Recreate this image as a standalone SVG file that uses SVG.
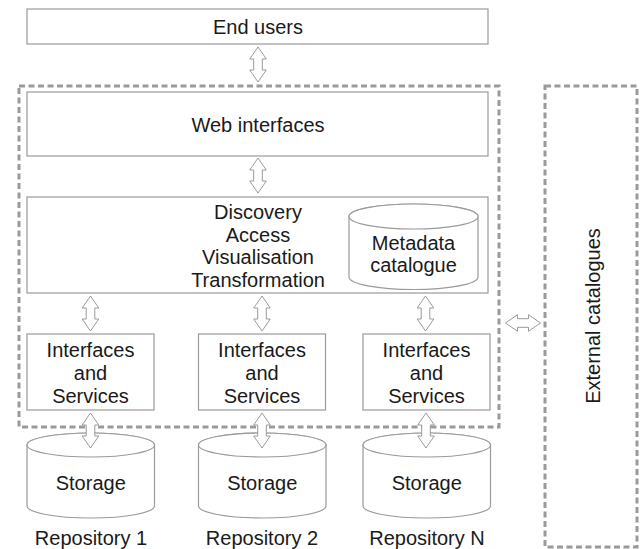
<svg xmlns="http://www.w3.org/2000/svg" xmlns:xlink="http://www.w3.org/1999/xlink" width="641" height="549" viewBox="0 0 641 549">
<style>
.box{fill:#fff;stroke:#9a9a9a;stroke-width:1.2}
.dash{fill:none;stroke:#9a9a9a;stroke-width:3;stroke-dasharray:6 3.5}
.arr{fill:#fff;stroke:#9a9a9a;stroke-width:1}
text{font-family:"Liberation Sans",Arial,sans-serif;font-size:20px;fill:#1a1a1a;text-anchor:middle}
</style>
<defs>
<path id="dbl" d="M0,-17.5 L8.3,-5.5 L4.3,-5.5 L4.3,5.5 L8.3,5.5 L0,17.5 L-8.3,5.5 L-4.3,5.5 L-4.3,-5.5 L-8.3,-5.5 Z"/>
</defs>
<rect width="641" height="549" fill="#fff"/>
<g id="platform">
<rect class="dash" x="19" y="86" width="480" height="341"/>
</g>
<g id="external-catalogues">
<rect class="dash" x="545" y="86" width="92" height="461"/>
<text transform="translate(593,316) rotate(-90)" x="0" y="7">External catalogues</text>
</g>
<g id="end-users">
<rect class="box" x="27" y="9" width="461" height="35"/>
<text x="258" y="34">End users</text>
</g>
<g id="web-interfaces">
<rect class="box" x="27" y="92" width="461" height="64"/>
<text x="258" y="132">Web interfaces</text>
</g>
<g id="discovery">
<rect class="box" x="27" y="197" width="461" height="96"/>
<text x="258" y="219">Discovery</text>
<text x="258" y="241.5">Access</text>
<text x="258" y="264">Visualisation</text>
<text x="258" y="286.5">Transformation</text>
</g>
<g id="metadata-catalogue">
<path class="box" d="M349,216.5 V277 A64.5,12.5 0 0 0 478,277 V216.5 A64.5,12.5 0 0 0 349,216.5 Z"/>
<ellipse class="box" cx="413.5" cy="216.5" rx="64.5" ry="12.5"/>
<text x="413.5" y="250">Metadata</text>
<text x="413.5" y="272">catalogue</text>
</g>
<g id="interfaces-1">
<rect class="box" x="27" y="334" width="127" height="76"/>
<text x="90.5" y="357">Interfaces</text>
<text x="90.5" y="380">and</text>
<text x="90.5" y="403">Services</text>
</g>
<g id="interfaces-2">
<rect class="box" x="198.5" y="334" width="127" height="76"/>
<text x="262" y="357">Interfaces</text>
<text x="262" y="380">and</text>
<text x="262" y="403">Services</text>
</g>
<g id="interfaces-n">
<rect class="box" x="363" y="334" width="127" height="76"/>
<text x="426.5" y="357">Interfaces</text>
<text x="426.5" y="380">and</text>
<text x="426.5" y="403">Services</text>
</g>
<g id="storage-1">
<path class="box" d="M27,445 V506 A63.75,12 0 0 0 154.5,506 V445 A63.75,12 0 0 0 27,445 Z"/>
<ellipse class="box" cx="90.75" cy="445" rx="63.75" ry="12"/>
<text x="90.75" y="490">Storage</text>
<text x="91" y="545">Repository 1</text>
</g>
<g id="storage-2">
<path class="box" d="M198.5,445 V506 A63.75,12 0 0 0 326,506 V445 A63.75,12 0 0 0 198.5,445 Z"/>
<ellipse class="box" cx="262.25" cy="445" rx="63.75" ry="12"/>
<text x="262.25" y="490">Storage</text>
<text x="262" y="545">Repository 2</text>
</g>
<g id="storage-n">
<path class="box" d="M363,445 V506 A63.75,12 0 0 0 490.5,506 V445 A63.75,12 0 0 0 363,445 Z"/>
<ellipse class="box" cx="426.75" cy="445" rx="63.75" ry="12"/>
<text x="426.75" y="490">Storage</text>
<text x="427" y="545">Repository N</text>
</g>
<g id="connectors">
<use xlink:href="#dbl" href="#dbl" class="arr" transform="translate(258,64.5)"/>
<use xlink:href="#dbl" href="#dbl" class="arr" transform="translate(258,175.5)"/>
<use xlink:href="#dbl" href="#dbl" class="arr" transform="translate(90.5,313.5)"/>
<use xlink:href="#dbl" href="#dbl" class="arr" transform="translate(262,313.5)"/>
<use xlink:href="#dbl" href="#dbl" class="arr" transform="translate(425.5,313.5)"/>
<use xlink:href="#dbl" href="#dbl" class="arr" transform="translate(90.5,430.5)"/>
<use xlink:href="#dbl" href="#dbl" class="arr" transform="translate(262,430.5)"/>
<use xlink:href="#dbl" href="#dbl" class="arr" transform="translate(426,430.5)"/>
<use xlink:href="#dbl" href="#dbl" class="arr" transform="translate(523,323) rotate(90)"/>
</g>
</svg>
